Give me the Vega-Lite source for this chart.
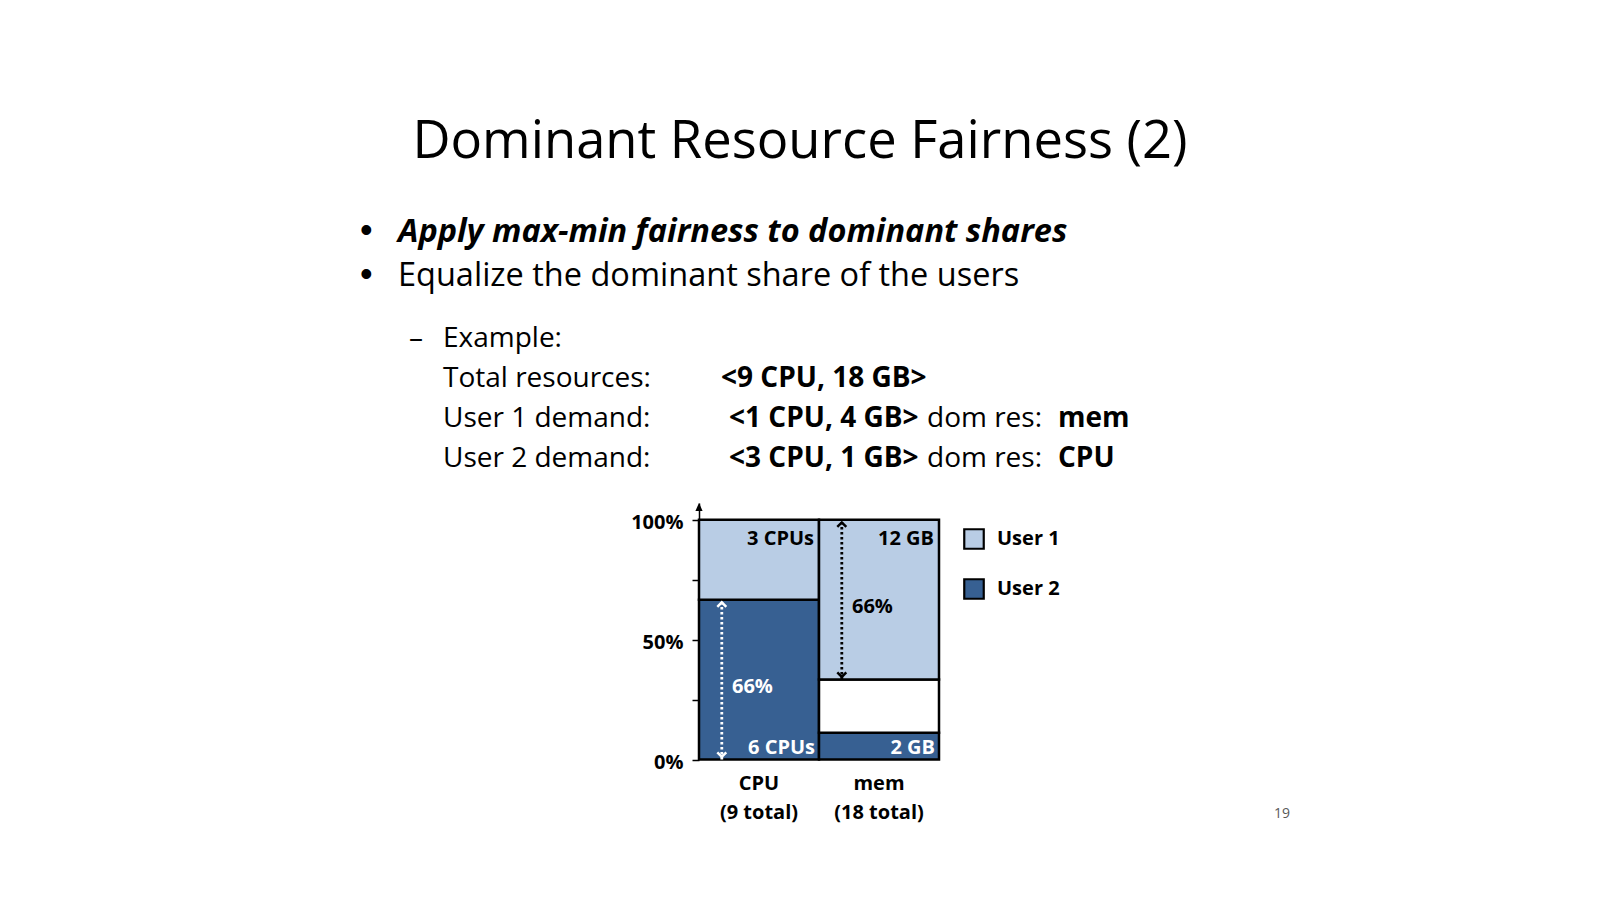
{
  "$schema": "https://vega.github.io/schema/vega-lite/v6.json",
  "autosize": {"type": "none"},
  "width": 240,
  "height": 256.5,
  "padding": {"left": 699, "top": 503, "right": 661, "bottom": 140.5},
  "background": "white",
  "config": {"view": {"stroke": null}, "font": "Open Sans"},
  "datasets": {
    "shares": [
      {"resource": "CPU|(9 total)", "user": "User 2", "start": 0, "end": 66.67, "label": "6 CPUs"},
      {"resource": "CPU|(9 total)", "user": "User 1", "start": 66.67, "end": 100, "label": "3 CPUs"},
      {"resource": "mem|(18 total)", "user": "User 2", "start": 0, "end": 11.11, "label": "2 GB"},
      {"resource": "mem|(18 total)", "user": "Free", "start": 11.11, "end": 33.33, "label": ""},
      {"resource": "mem|(18 total)", "user": "User 1", "start": 33.33, "end": 100, "label": "12 GB"}
    ],
    "dominant": [
      {"resource": "CPU|(9 total)", "user": "User 2", "lo": 0, "hi": 66.67, "share": "66%"},
      {"resource": "mem|(18 total)", "user": "User 1", "lo": 33.33, "hi": 100, "share": "66%"}
    ],
    "slideTitle": [{"line": 1, "col": 7, "text": "Dominant Resource Fairness (2)"}],
    "slideBullets": [{"line": 2, "col": 1, "text": "•"}, {"line": 3, "col": 1, "text": "•"}],
    "slideLead": [{"line": 2, "col": 2, "text": "Apply max-min fairness to dominant shares"}],
    "slidePoint": [{"line": 3, "col": 2, "text": "Equalize the dominant share of the users"}],
    "slideText": [
      {"line": 4, "col": 3, "text": "–"},
      {"line": 4, "col": 4, "text": "Example:"},
      {"line": 5, "col": 4, "text": "Total resources:"},
      {"line": 6, "col": 4, "text": "User 1 demand:"},
      {"line": 7, "col": 4, "text": "User 2 demand:"},
      {"line": 6, "col": 8, "text": "dom res:"},
      {"line": 7, "col": 8, "text": "dom res:"}
    ],
    "slideBold": [
      {"line": 5, "col": 5, "text": "<9 CPU, 18 GB>"},
      {"line": 6, "col": 6, "text": "<1 CPU, 4 GB>"},
      {"line": 7, "col": 6, "text": "<3 CPU, 1 GB>"},
      {"line": 6, "col": 9, "text": "mem"},
      {"line": 7, "col": 9, "text": "CPU"}
    ],
    "slidePage": [{"line": 8, "col": 10, "text": "19"}]
  },
  "layer": [
    {
      "layer": [
        {
          "data": {"name": "shares"},
          "mark": {"type": "bar", "stroke": "black", "strokeWidth": 2.5, "strokeJoin": "miter"},
          "encoding": {
            "x": {
              "field": "resource", "type": "nominal", "sort": null,
              "scale": {"paddingInner": 0, "paddingOuter": 0},
              "axis": {
                "title": null, "labelExpr": "split(datum.value, '|')", "labelAngle": 0,
                "ticks": false, "domain": false, "labelFont": "Open Sans", "labelFontWeight": "bold",
                "labelFontSize": 20, "labelColor": "black", "labelPadding": 14, "labelLineHeight": 29
              }
            },
            "y": {
              "field": "start", "type": "quantitative",
              "scale": {"domain": [0, 107], "nice": false},
              "axis": {
                "title": null, "values": [0, 25, 50, 75, 100],
                "labelExpr": "datum.value % 50 === 0 ? datum.value + '%' : ''",
                "grid": false, "domainColor": "black", "domainWidth": 1.5,
                "tickColor": "black", "tickWidth": 1.5, "tickSize": 7,
                "labelFont": "Open Sans", "labelFontWeight": "bold", "labelFontSize": 20,
                "labelColor": "black", "labelPadding": 9, "labelOffset": 3, "labelFlush": false
              }
            },
            "y2": {"field": "end"},
            "fill": {
              "field": "user", "type": "nominal",
              "scale": {"domain": ["User 1", "User 2", "Free"], "range": ["#B9CDE5", "#376092", "#FFFFFF"]},
              "legend": {
                "values": ["User 1", "User 2"], "title": null, "orient": "none",
                "legendX": 264, "legendY": 25, "symbolType": "square", "symbolSize": 380,
                "symbolStrokeColor": "black", "symbolStrokeWidth": 2.2, "symbolOpacity": 1,
                "labelFont": "Open Sans", "labelFontWeight": "bold", "labelFontSize": 20,
                "labelColor": "black", "labelOffset": 12, "rowPadding": 20, "padding": 0
              }
            }
          }
        },
        {
          "data": {"name": "shares"},
          "transform": [{"filter": "datum.user === 'User 1'"}],
          "mark": {"type": "text", "align": "right", "baseline": "middle", "dx": -5, "dy": 19, "font": "Open Sans", "fontWeight": "bold", "fontSize": 20, "color": "black"},
          "encoding": {
            "x": {"field": "resource", "type": "nominal", "bandPosition": 1},
            "y": {"field": "end", "type": "quantitative"},
            "text": {"field": "label"}
          }
        },
        {
          "data": {"name": "shares"},
          "transform": [{"filter": "datum.user === 'User 2'"}],
          "mark": {"type": "text", "align": "right", "baseline": "middle", "dx": -4, "dy": -11.5, "font": "Open Sans", "fontWeight": "bold", "fontSize": 20, "color": "white"},
          "encoding": {
            "x": {"field": "resource", "type": "nominal", "bandPosition": 1},
            "y": {"field": "start", "type": "quantitative"},
            "text": {"field": "label"}
          }
        },
        {
          "data": {"name": "dominant"},
          "mark": {"type": "rule", "strokeDash": [2.5, 2.5], "strokeWidth": 2.8},
          "encoding": {
            "x": {"field": "resource", "type": "nominal", "bandPosition": 0.19},
            "y": {"field": "lo", "type": "quantitative"},
            "y2": {"field": "hi"},
            "stroke": {"field": "user", "type": "nominal", "scale": {"domain": ["User 1", "User 2"], "range": ["black", "white"]}, "legend": null}
          }
        },
        {
          "data": {"name": "dominant"},
          "mark": {"type": "point", "shape": "M-0.75,1.2L0,0.45L0.75,1.2", "size": 144, "filled": false, "strokeWidth": 2.5, "opacity": 1},
          "encoding": {
            "x": {"field": "resource", "type": "nominal", "bandPosition": 0.19},
            "y": {"field": "hi", "type": "quantitative"},
            "stroke": {"field": "user", "type": "nominal", "legend": null}
          }
        },
        {
          "data": {"name": "dominant"},
          "mark": {"type": "point", "shape": "M-0.75,-1.2L0,-0.45L0.75,-1.2", "size": 144, "filled": false, "strokeWidth": 2.5, "opacity": 1},
          "encoding": {
            "x": {"field": "resource", "type": "nominal", "bandPosition": 0.19},
            "y": {"field": "lo", "type": "quantitative"},
            "stroke": {"field": "user", "type": "nominal", "legend": null}
          }
        },
        {
          "data": {"name": "dominant"},
          "mark": {"type": "text", "align": "left", "baseline": "middle", "dy": -73, "font": "Open Sans", "fontWeight": "bold", "fontSize": 20},
          "encoding": {
            "x": {"field": "resource", "type": "nominal", "bandPosition": 0.275},
            "y": {"field": "lo", "type": "quantitative"},
            "text": {"field": "share"},
            "color": {"field": "user", "type": "nominal", "scale": {"domain": ["User 1", "User 2"], "range": ["black", "white"]}, "legend": null}
          }
        },
        {
          "data": {"values": [{}]},
          "mark": {"type": "point", "shape": "M0,0L0.9,2L-0.9,2Z", "size": 64, "filled": true, "color": "black", "opacity": 1},
          "encoding": {
            "x": {"datum": "CPU|(9 total)", "type": "nominal", "bandPosition": 0},
            "y": {"datum": 107, "type": "quantitative"}
          }
        }
      ]
    },
    {
      "layer": [
        {
          "data": {"name": "slideTitle"},
          "mark": {"type": "text", "align": "center", "baseline": "alphabetic", "font": "Open Sans", "fontSize": 52.5, "color": "black"},
          "encoding": {
            "x": {"field": "col", "type": "quantitative", "axis": null, "scale": {"domain": [1, 2, 3, 4, 5, 6, 7, 8, 9, 10], "range": [-339, -301, -290, -256, 22, 30, 101, 228, 359, 583], "nice": false, "zero": false}},
            "y": {"field": "line", "type": "quantitative", "axis": null, "scale": {"domain": [1, 2, 3, 4, 5, 6, 7, 8], "range": [-345, -261.5, -217.5, -156.5, -116, -76.5, -36.5, 315], "nice": false, "zero": false}},
            "text": {"field": "text"}
          }
        },
        {
          "data": {"name": "slideBullets"},
          "mark": {"type": "text", "align": "left", "baseline": "alphabetic", "font": "Liberation Sans", "fontSize": 36, "color": "black"},
          "encoding": {
            "x": {"field": "col", "type": "quantitative", "axis": null, "scale": {"domain": [1, 2, 3, 4, 5, 6, 7, 8, 9, 10], "range": [-339, -301, -290, -256, 22, 30, 101, 228, 359, 583], "nice": false, "zero": false}},
            "y": {"field": "line", "type": "quantitative", "axis": null, "scale": {"domain": [1, 2, 3, 4, 5, 6, 7, 8], "range": [-345, -261.5, -217.5, -156.5, -116, -76.5, -36.5, 315], "nice": false, "zero": false}},
            "text": {"field": "text"}
          }
        },
        {
          "data": {"name": "slideLead"},
          "mark": {"type": "text", "align": "left", "baseline": "alphabetic", "font": "Open Sans", "fontSize": 32.5, "fontWeight": "bold", "fontStyle": "italic", "color": "black"},
          "encoding": {
            "x": {"field": "col", "type": "quantitative", "axis": null, "scale": {"domain": [1, 2, 3, 4, 5, 6, 7, 8, 9, 10], "range": [-339, -301, -290, -256, 22, 30, 101, 228, 359, 583], "nice": false, "zero": false}},
            "y": {"field": "line", "type": "quantitative", "axis": null, "scale": {"domain": [1, 2, 3, 4, 5, 6, 7, 8], "range": [-345, -261.5, -217.5, -156.5, -116, -76.5, -36.5, 315], "nice": false, "zero": false}},
            "text": {"field": "text"}
          }
        },
        {
          "data": {"name": "slidePoint"},
          "mark": {"type": "text", "align": "left", "baseline": "alphabetic", "font": "Open Sans", "fontSize": 32.5, "color": "black"},
          "encoding": {
            "x": {"field": "col", "type": "quantitative", "axis": null, "scale": {"domain": [1, 2, 3, 4, 5, 6, 7, 8, 9, 10], "range": [-339, -301, -290, -256, 22, 30, 101, 228, 359, 583], "nice": false, "zero": false}},
            "y": {"field": "line", "type": "quantitative", "axis": null, "scale": {"domain": [1, 2, 3, 4, 5, 6, 7, 8], "range": [-345, -261.5, -217.5, -156.5, -116, -76.5, -36.5, 315], "nice": false, "zero": false}},
            "text": {"field": "text"}
          }
        },
        {
          "data": {"name": "slideText"},
          "mark": {"type": "text", "align": "left", "baseline": "alphabetic", "font": "Open Sans", "fontSize": 28, "color": "black"},
          "encoding": {
            "x": {"field": "col", "type": "quantitative", "axis": null, "scale": {"domain": [1, 2, 3, 4, 5, 6, 7, 8, 9, 10], "range": [-339, -301, -290, -256, 22, 30, 101, 228, 359, 583], "nice": false, "zero": false}},
            "y": {"field": "line", "type": "quantitative", "axis": null, "scale": {"domain": [1, 2, 3, 4, 5, 6, 7, 8], "range": [-345, -261.5, -217.5, -156.5, -116, -76.5, -36.5, 315], "nice": false, "zero": false}},
            "text": {"field": "text"}
          }
        },
        {
          "data": {"name": "slideBold"},
          "mark": {"type": "text", "align": "left", "baseline": "alphabetic", "font": "Open Sans", "fontSize": 28, "fontWeight": "bold", "color": "black"},
          "encoding": {
            "x": {"field": "col", "type": "quantitative", "axis": null, "scale": {"domain": [1, 2, 3, 4, 5, 6, 7, 8, 9, 10], "range": [-339, -301, -290, -256, 22, 30, 101, 228, 359, 583], "nice": false, "zero": false}},
            "y": {"field": "line", "type": "quantitative", "axis": null, "scale": {"domain": [1, 2, 3, 4, 5, 6, 7, 8], "range": [-345, -261.5, -217.5, -156.5, -116, -76.5, -36.5, 315], "nice": false, "zero": false}},
            "text": {"field": "text"}
          }
        },
        {
          "data": {"name": "slidePage"},
          "mark": {"type": "text", "align": "center", "baseline": "alphabetic", "font": "Open Sans", "fontSize": 14, "color": "#595959"},
          "encoding": {
            "x": {"field": "col", "type": "quantitative", "axis": null, "scale": {"domain": [1, 2, 3, 4, 5, 6, 7, 8, 9, 10], "range": [-339, -301, -290, -256, 22, 30, 101, 228, 359, 583], "nice": false, "zero": false}},
            "y": {"field": "line", "type": "quantitative", "axis": null, "scale": {"domain": [1, 2, 3, 4, 5, 6, 7, 8], "range": [-345, -261.5, -217.5, -156.5, -116, -76.5, -36.5, 315], "nice": false, "zero": false}},
            "text": {"field": "text"}
          }
        }
      ]
    }
  ],
  "resolve": {"scale": {"x": "independent", "y": "independent"}}
}
